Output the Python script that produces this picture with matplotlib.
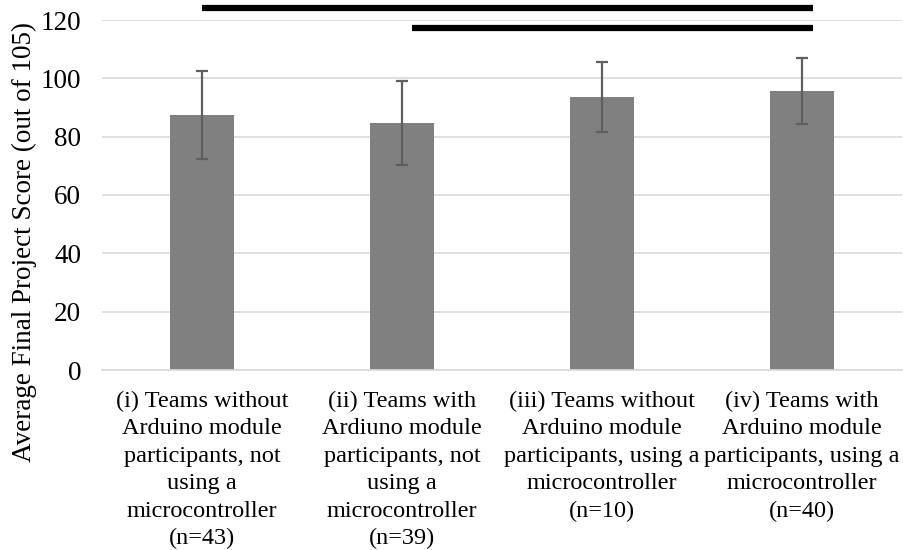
import matplotlib
matplotlib.use("Agg")
import matplotlib.pyplot as plt
import numpy as np

categories = [
    "(i) Teams without\nArduino module\nparticipants, not\nusing a\nmicrocontroller\n(n=43)",
    "(ii) Teams with\nArdiuno module\nparticipants, not\nusing a\nmicrocontroller\n(n=39)",
    "(iii) Teams without\nArduino module\nparticipants, using a\nmicrocontroller\n(n=10)",
    "(iv) Teams with\nArduino module\nparticipants, using a\nmicrocontroller\n(n=40)",
]
means = [87.3, 84.7, 93.6, 95.6]
errors = [15.1, 14.4, 12.0, 11.3]
yticks = [0, 20, 40, 60, 80, 100, 120]

# significance brackets: (x start, x end, y level) in data units
sig_lines = [(0.0, 3.055, 124.0), (1.05, 3.055, 117.2)]

plt.rcParams["font.family"] = ["Liberation Serif", "DejaVu Serif"]

fig = plt.figure(figsize=(9.04, 5.5), dpi=100)
ax = fig.add_axes([102 / 904, 180 / 550, 800 / 904, 350 / 550])

x = np.arange(len(categories))
ax.bar(x, means, width=0.32, color="#808080", zorder=2)
ax.errorbar(x, means, yerr=errors, fmt="none", ecolor="#5f5f5f",
            elinewidth=1.6, capsize=4.3, capthick=1.6, zorder=3)

for x0, x1, yv in sig_lines:
    ax.plot([x0, x1], [yv, yv], color="black", lw=4.5, solid_capstyle="butt",
            clip_on=False, zorder=4)

ax.set_xlim(-0.5, 3.5)
ax.set_ylim(0, 120)
ax.set_yticks(yticks)
ax.yaxis.grid(True, color="#d9d9d9", lw=1.2, zorder=0)
ax.set_axisbelow(True)
for side in ["top", "right", "left"]:
    ax.spines[side].set_visible(False)
ax.spines["bottom"].set_color("#d9d9d9")
ax.spines["bottom"].set_linewidth(1.2)

ax.set_xticks(x)
ax.set_xticklabels(categories, fontsize=17.5, linespacing=1.4)
ax.tick_params(axis="x", length=0, pad=15)
ax.tick_params(axis="y", length=0, pad=15, labelsize=19.5)
ax.set_ylabel("Average Final Project Score (out of 105)", fontsize=19.5)
ax.yaxis.set_label_coords(-0.081, 0.366)

fig.savefig("out.png", dpi=100)
